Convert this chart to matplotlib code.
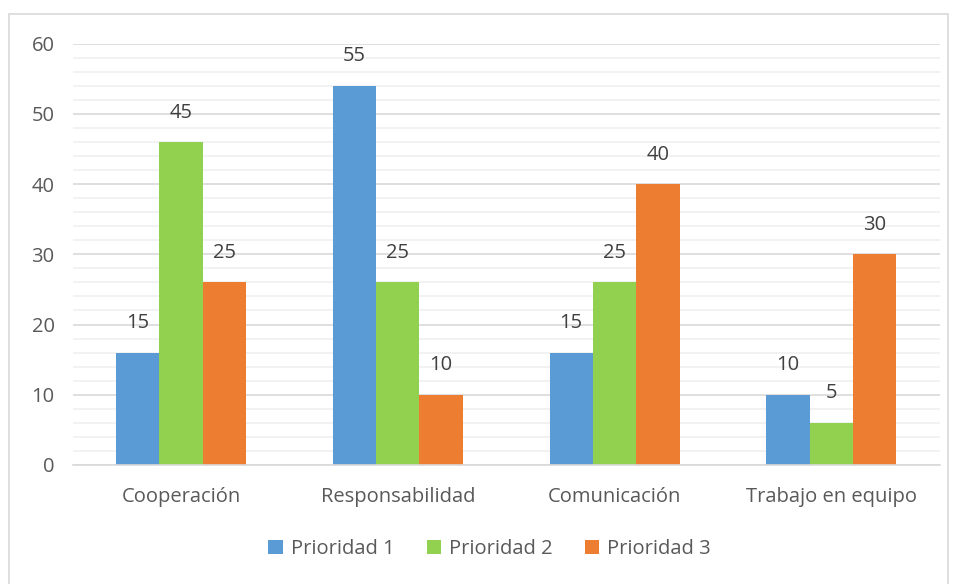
import matplotlib
matplotlib.use("Agg")
import matplotlib.pyplot as plt
import numpy as np
from matplotlib.patches import Rectangle

categories = ["Cooperación", "Responsabilidad", "Comunicación", "Trabajo en equipo"]
series_names = ["Prioridad 1", "Prioridad 2", "Prioridad 3"]
p1_values = [16, 54, 16, 10]
p2_values = [46, 26, 26, 6]
p3_values = [26, 10, 40, 30]
p1_labels = ["15", "55", "15", "10"]
p2_labels = ["45", "25", "25", "5"]
p3_labels = ["25", "10", "40", "30"]
colors = ["#5B9BD5", "#92D050", "#ED7D31"]

plt.rcParams['font.family'] = ['Open Sans', 'DejaVu Sans']
txt = "#595959"

fig = plt.figure(figsize=(9.56, 5.84), dpi=100)
ax = fig.add_axes([0.076, 0.204, 0.907, 0.721])

x = np.arange(len(categories))
w = 0.2
series = [p1_values, p2_values, p3_values]
labels = [p1_labels, p2_labels, p3_labels]
for i, (vals, labs) in enumerate(zip(series, labels)):
    bars = ax.bar(x + (i - 1) * w, vals, width=w, color=colors[i], label=series_names[i], zorder=3)
    for b, lab in zip(bars, labs):
        ax.annotate(lab, (b.get_x() + b.get_width() / 2, b.get_height()),
                    xytext=(0, 14), textcoords="offset points", ha="center", va="bottom",
                    fontsize=14.5, color="#404040", zorder=4)

ax.set_xlim(-0.5, 3.5)
ax.set_ylim(0, 60)
ax.set_yticks(np.arange(0, 61, 10))
ax.set_yticks(np.arange(0, 61, 2), minor=True)
ax.grid(axis="y", which="major", color="#d9d9d9", linewidth=1.2, zorder=1)
ax.grid(axis="y", which="minor", color="#f0f0f0", linewidth=1.2, zorder=0)
ax.set_xticks(x)
ax.set_xticklabels(categories)
ax.tick_params(axis="both", which="both", length=0, labelsize=14.5, colors=txt)
ax.tick_params(axis="x", pad=16)
ax.tick_params(axis="y", pad=13)
for s in ["top", "right", "left"]:
    ax.spines[s].set_visible(False)
ax.spines["bottom"].set_color("#d9d9d9")
ax.spines["bottom"].set_linewidth(1.2)
ax.spines["bottom"].set_zorder(5)

leg = fig.legend(loc="center", bbox_to_anchor=(0.512, 0.06), ncol=3, frameon=False,
                 fontsize=14.5, handlelength=0.7, handleheight=0.7, columnspacing=1.6, handletextpad=0.4)
for t in leg.get_texts():
    t.set_color(txt)

fig.patches.append(Rectangle((9 / 956, -0.02), 939 / 956, 1 - 14 / 584 + 0.02, transform=fig.transFigure,
                             fill=False, edgecolor="#d9d9d9", linewidth=1.2))

fig.savefig("out.png", dpi=100)
